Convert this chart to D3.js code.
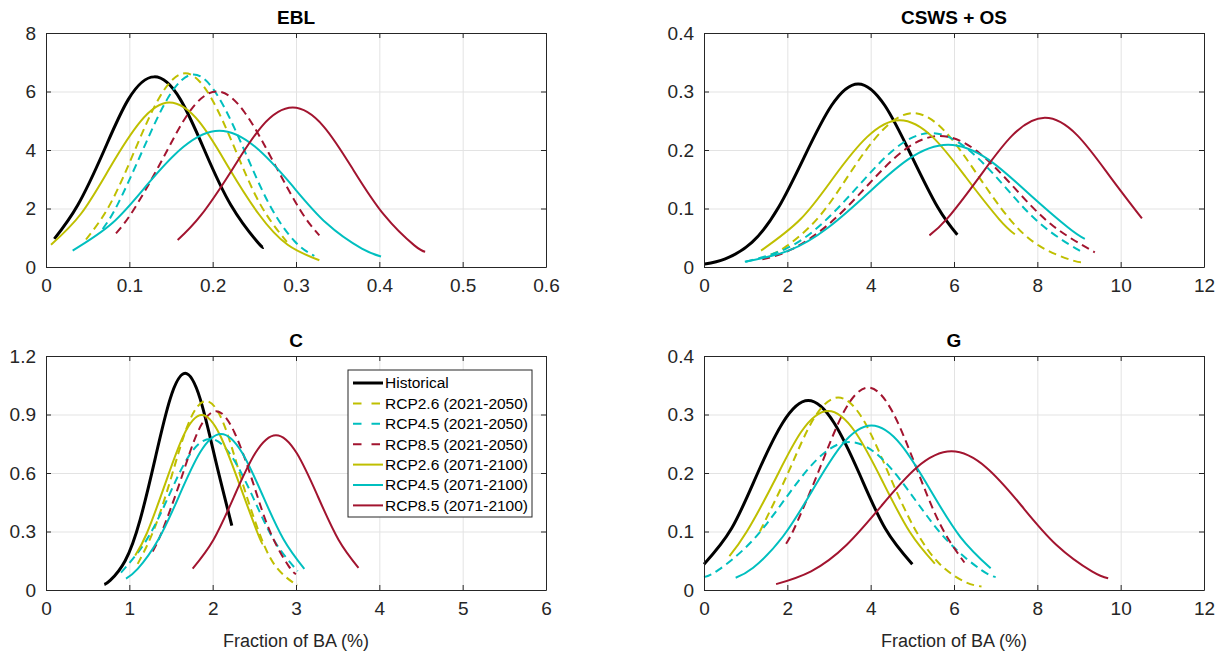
<!DOCTYPE html>
<html lang="en">
<head>
  <meta charset="UTF-8">
  <title>Fraction of BA</title>
  <script src="https://d3js.org/d3.v7.min.js"></script>
  <style>
    * {
      margin: 0;
      padding: 0;
      box-sizing: border-box;
    }
    body {
      background: white;
      font-family: "Liberation Sans", Arial, sans-serif;
    }
    .tick text {
      fill: #262626;
    }
  </style>
</head>
<body>
  <div id="chart"></div>

  <script>
    // series (same order in every panel)
    const seriesNames = ["Historical", "RCP2.6 (2021-2050)", "RCP4.5 (2021-2050)", "RCP8.5 (2021-2050)",
                         "RCP2.6 (2071-2100)", "RCP4.5 (2071-2100)", "RCP8.5 (2071-2100)"];
    const seriesColors = ["#000000", "#bfbf00", "#00bfbf", "#a2142f", "#bfbf00", "#00bfbf", "#a2142f"];
    const seriesDashed = [false, true, true, true, false, false, false];

    const panelTitles = ["EBL", "CSWS + OS", "C", "G"];

    // tick labels
    const eblXTicks = [0, 0.1, 0.2, 0.3, 0.4, 0.5, 0.6];
    const eblYTicks = [0, 2, 4, 6, 8];
    const cswsXTicks = [0, 2, 4, 6, 8, 10, 12];
    const cswsYTicks = [0, 0.1, 0.2, 0.3, 0.4];
    const cXTicks = [0, 1, 2, 3, 4, 5, 6];
    const cYTicks = [0, 0.3, 0.6, 0.9, 1.2];
    const gXTicks = [0, 2, 4, 6, 8, 10, 12];
    const gYTicks = [0, 0.1, 0.2, 0.3, 0.4];

    // EBL curves
    const eblX = [
      [0.010, 0.038, 0.069, 0.099, 0.130, 0.161, 0.191, 0.222, 0.253, 0.261],
      [0.048, 0.077, 0.107, 0.137, 0.167, 0.197, 0.227, 0.257, 0.289],
      [0.068, 0.086, 0.116, 0.147, 0.177, 0.207, 0.238, 0.268, 0.298, 0.322],
      [0.084, 0.105, 0.139, 0.172, 0.205, 0.238, 0.272, 0.305, 0.328],
      [0.006, 0.042, 0.077, 0.113, 0.148, 0.184, 0.219, 0.255, 0.290, 0.328],
      [0.032, 0.080, 0.122, 0.165, 0.208, 0.251, 0.294, 0.336, 0.379, 0.402],
      [0.158, 0.186, 0.223, 0.259, 0.296, 0.333, 0.369, 0.406, 0.442, 0.455]
    ];
    const eblY = [
      [0.96, 2.11, 3.94, 5.74, 6.50, 5.74, 3.94, 2.11, 0.88, 0.67],
      [0.94, 2.15, 4.02, 5.84, 6.62, 5.84, 4.02, 2.15, 0.86],
      [1.30, 2.14, 3.99, 5.81, 6.58, 5.81, 3.99, 2.14, 0.89, 0.38],
      [1.15, 1.95, 3.64, 5.30, 6.00, 5.30, 3.64, 1.95, 1.08],
      [0.76, 1.82, 3.41, 4.96, 5.62, 4.96, 3.41, 1.82, 0.76, 0.23],
      [0.56, 1.51, 2.83, 4.11, 4.66, 4.11, 2.83, 1.51, 0.63, 0.36],
      [0.92, 1.77, 3.31, 4.81, 5.45, 4.81, 3.31, 1.77, 0.74, 0.52]
    ];

    // CSWS + OS curves
    const cswsX = [
      [0.02, 0.51, 1.15, 1.79, 2.42, 3.06, 3.70, 4.34, 4.98, 5.61, 6.08],
      [1.60, 1.99, 2.75, 3.50, 4.26, 5.02, 5.78, 6.54, 7.30, 8.05, 8.81, 9.06],
      [1.00, 1.96, 2.83, 3.71, 4.58, 5.45, 6.32, 7.20, 8.07, 8.94, 9.10],
      [1.40, 2.10, 2.99, 3.88, 4.77, 5.66, 6.55, 7.44, 8.33, 9.38],
      [1.37, 2.32, 3.11, 3.91, 4.70, 5.49, 6.29, 7.08, 7.46],
      [0.98, 2.03, 2.99, 3.95, 4.90, 5.86, 6.82, 7.77, 8.73, 9.14],
      [5.41, 5.84, 6.62, 7.40, 8.18, 8.96, 9.74, 10.51]
    ];
    const cswsY = [
      [0.005, 0.014, 0.042, 0.102, 0.190, 0.276, 0.313, 0.276, 0.190, 0.102, 0.055],
      [0.021, 0.036, 0.085, 0.160, 0.232, 0.263, 0.232, 0.160, 0.085, 0.036, 0.012, 0.008],
      [0.009, 0.031, 0.074, 0.139, 0.202, 0.229, 0.202, 0.139, 0.074, 0.031, 0.026],
      [0.013, 0.030, 0.073, 0.136, 0.198, 0.224, 0.198, 0.136, 0.073, 0.025],
      [0.028, 0.082, 0.153, 0.222, 0.251, 0.222, 0.153, 0.082, 0.056],
      [0.009, 0.028, 0.068, 0.127, 0.184, 0.209, 0.184, 0.127, 0.068, 0.048],
      [0.054, 0.083, 0.155, 0.225, 0.255, 0.225, 0.155, 0.083]
    ];

    // C curves
    const cX = [
      [0.70, 0.77, 0.95, 1.13, 1.31, 1.49, 1.67, 1.85, 2.03, 2.23],
      [1.10, 1.30, 1.51, 1.71, 1.92, 2.13, 2.33, 2.54, 2.74, 2.95, 3.02],
      [0.90, 1.20, 1.46, 1.71, 1.97, 2.23, 2.49, 2.74, 3.02],
      [1.28, 1.39, 1.61, 1.82, 2.04, 2.26, 2.48, 2.69, 2.91, 3.00],
      [1.07, 1.21, 1.43, 1.65, 1.87, 2.09, 2.32, 2.54, 2.60],
      [0.96, 1.10, 1.35, 1.60, 1.85, 2.10, 2.35, 2.60, 2.85, 3.10],
      [1.76, 2.01, 2.26, 2.51, 2.76, 3.01, 3.26, 3.51, 3.75]
    ];
    const cY = [
      [0.028, 0.049, 0.150, 0.361, 0.674, 0.980, 1.111, 0.980, 0.674, 0.330],
      [0.134, 0.315, 0.588, 0.855, 0.969, 0.855, 0.588, 0.315, 0.131, 0.043, 0.027],
      [0.089, 0.252, 0.470, 0.684, 0.775, 0.684, 0.470, 0.252, 0.097],
      [0.198, 0.298, 0.556, 0.809, 0.917, 0.809, 0.556, 0.298, 0.124, 0.082],
      [0.177, 0.291, 0.544, 0.792, 0.897, 0.792, 0.544, 0.291, 0.235],
      [0.058, 0.108, 0.260, 0.485, 0.706, 0.800, 0.706, 0.485, 0.260, 0.108],
      [0.110, 0.258, 0.482, 0.701, 0.794, 0.701, 0.482, 0.258, 0.114]
    ];

    // G curves
    const gX = [
      [0.00, 0.66, 1.27, 1.89, 2.50, 3.12, 3.74, 4.35, 5.00],
      [1.34, 2.01, 2.61, 3.22, 3.83, 4.43, 5.04, 5.65, 6.26, 6.66],
      [0.00, 0.34, 1.13, 1.92, 2.71, 3.50, 4.29, 5.08, 5.87, 6.66, 7.00],
      [1.97, 2.21, 2.79, 3.36, 3.94, 4.52, 5.09, 5.67, 6.25],
      [0.61, 1.02, 1.68, 2.33, 2.98, 3.63, 4.29, 4.94, 5.54],
      [0.76, 1.18, 1.89, 2.60, 3.31, 4.02, 4.73, 5.44, 6.15, 6.88],
      [1.73, 2.57, 3.42, 4.26, 5.10, 5.94, 6.78, 7.62, 8.46, 9.31, 9.70]
    ];
    const gY = [
      [0.044, 0.105, 0.197, 0.286, 0.324, 0.286, 0.197, 0.105, 0.044],
      [0.100, 0.199, 0.290, 0.329, 0.290, 0.199, 0.107, 0.045, 0.014, 0.006],
      [0.022, 0.034, 0.082, 0.153, 0.223, 0.253, 0.223, 0.153, 0.082, 0.034, 0.022],
      [0.079, 0.112, 0.210, 0.305, 0.346, 0.305, 0.210, 0.112, 0.047],
      [0.058, 0.099, 0.185, 0.270, 0.306, 0.270, 0.185, 0.099, 0.045],
      [0.021, 0.038, 0.091, 0.170, 0.248, 0.281, 0.248, 0.170, 0.091, 0.037],
      [0.010, 0.032, 0.077, 0.144, 0.209, 0.237, 0.209, 0.144, 0.077, 0.032, 0.020]
    ];

    const W = 1225, H = 657;
    const pw = 500, ph = 234;
    const axisColor = "#262626";

    const panels = [
      {left: 46,  top: 33,  xs: eblX,  ys: eblY,  xt: eblXTicks,  yt: eblYTicks,  xlabel: false, legend: false},
      {left: 704, top: 33,  xs: cswsX, ys: cswsY, xt: cswsXTicks, yt: cswsYTicks, xlabel: false, legend: false},
      {left: 46,  top: 356, xs: cX,    ys: cY,    xt: cXTicks,    yt: cYTicks,    xlabel: true,  legend: true},
      {left: 704, top: 356, xs: gX,    ys: gY,    xt: gXTicks,    yt: gYTicks,    xlabel: true,  legend: false}
    ];

    const svg = d3.select("#chart")
                  .append("svg")
                  .attr("width", W)
                  .attr("height", H)
                  .style("font-family", "'Liberation Sans', Arial, sans-serif");

    panels.forEach((p, pi) => {
      const g = svg.append("g").attr("transform", `translate(${p.left},${p.top})`);

      const x = d3.scaleLinear()
                  .domain([p.xt[0], p.xt[p.xt.length - 1]])
                  .range([0, pw]);
      const y = d3.scaleLinear()
                  .domain([p.yt[0], p.yt[p.yt.length - 1]])
                  .range([ph, 0]);

      // grid
      g.append("g")
       .attr("transform", `translate(0,${ph})`)
       .call(d3.axisBottom(x).tickValues(p.xt).tickSize(-ph).tickFormat(""))
       .call(s => s.select(".domain").remove())
       .selectAll("line").attr("stroke", "#e3e3e3");
      g.append("g")
       .call(d3.axisLeft(y).tickValues(p.yt).tickSize(-pw).tickFormat(""))
       .call(s => s.select(".domain").remove())
       .selectAll("line").attr("stroke", "#e3e3e3");

      // curves
      const line = d3.line()
                     .x(d => x(d[0]))
                     .y(d => y(d[1]))
                     .curve(d3.curveNatural);

      seriesNames.forEach((name, si) => {
        const pts = p.xs[si].map((v, k) => [v, p.ys[si][k]]);
        g.append("path")
         .datum(pts)
         .attr("fill", "none")
         .attr("stroke", seriesColors[si])
         .attr("stroke-width", si === 0 ? 3 : 2)
         .attr("stroke-dasharray", seriesDashed[si] ? "8,5" : null)
         .attr("d", line);
      });

      // axes with inward ticks on all four sides
      const fmt = d => String(d);
      g.append("g")
       .attr("transform", `translate(0,${ph})`)
       .call(d3.axisBottom(x).tickValues(p.xt).tickSizeInner(-5).tickSizeOuter(0).tickPadding(12).tickFormat(fmt))
       .style("font-size", "19px")
       .call(s => s.selectAll("line, path").attr("stroke", axisColor));
      g.append("g")
       .call(d3.axisLeft(y).tickValues(p.yt).tickSizeInner(-5).tickSizeOuter(0).tickPadding(10).tickFormat(fmt))
       .style("font-size", "19px")
       .call(s => s.selectAll("line, path").attr("stroke", axisColor));
      g.append("g")
       .call(d3.axisTop(x).tickValues(p.xt).tickSizeInner(-5).tickSizeOuter(0).tickFormat(""))
       .call(s => s.selectAll("line, path").attr("stroke", axisColor));
      g.append("g")
       .attr("transform", `translate(${pw},0)`)
       .call(d3.axisRight(y).tickValues(p.yt).tickSizeInner(-5).tickSizeOuter(0).tickFormat(""))
       .call(s => s.selectAll("line, path").attr("stroke", axisColor));

      // title
      g.append("text")
       .attr("x", pw / 2)
       .attr("y", -9)
       .attr("text-anchor", "middle")
       .style("font-size", "19px")
       .style("font-weight", "bold")
       .style("fill", "#000")
       .text(panelTitles[pi]);

      if (p.xlabel) {
        g.append("text")
         .attr("x", pw / 2)
         .attr("y", ph + 57)
         .attr("text-anchor", "middle")
         .style("font-size", "18px")
         .style("fill", axisColor)
         .text("Fraction of BA (%)");
      }

      if (p.legend) {
        const lg = g.append("g").attr("transform", "translate(302,14)");
        lg.append("rect")
          .attr("width", 184)
          .attr("height", 147)
          .attr("fill", "white")
          .attr("stroke", axisColor)
          .attr("stroke-width", 1);
        seriesNames.forEach((name, si) => {
          const yy = 13 + si * 20.4;
          lg.append("line")
            .attr("x1", 5).attr("x2", 35)
            .attr("y1", yy).attr("y2", yy)
            .attr("stroke", seriesColors[si])
            .attr("stroke-width", si === 0 ? 3 : 2)
            .attr("stroke-dasharray", seriesDashed[si] ? "8.5,10" : null);
          lg.append("text")
            .attr("x", 37)
            .attr("y", yy)
            .attr("dy", "0.35em")
            .style("font-size", "15.5px")
            .style("fill", "#000")
            .text(name);
        });
      }
    });
  </script>
</body>
</html>
